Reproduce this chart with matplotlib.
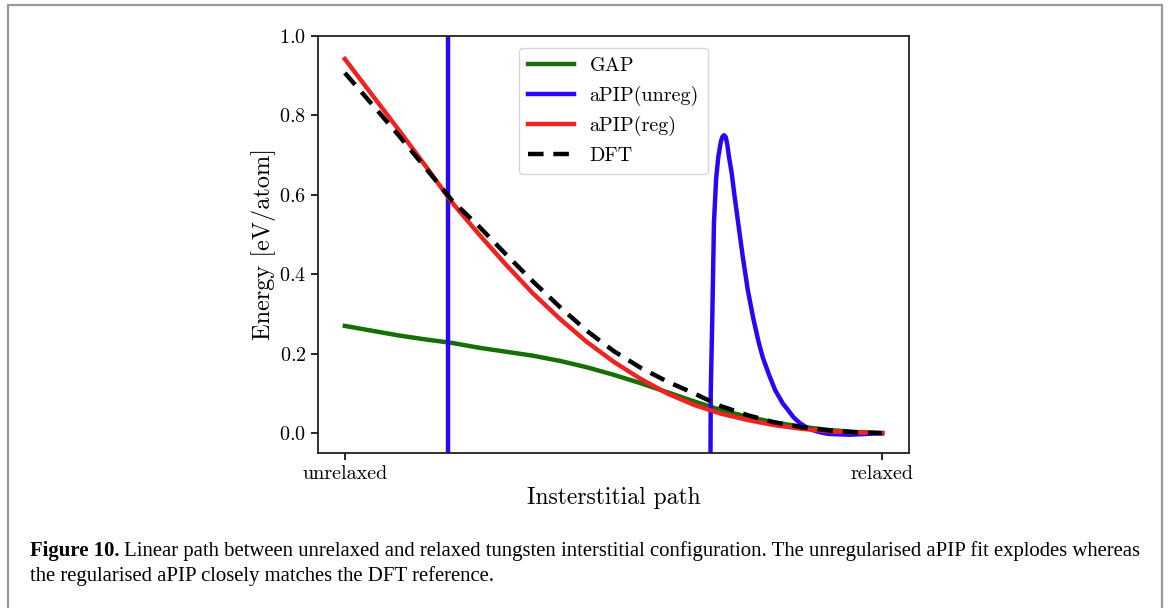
import numpy as np
import matplotlib
matplotlib.use("Agg")
import matplotlib.pyplot as plt
from matplotlib.patches import Rectangle

plt.rcParams['font.family'] = 'serif'
plt.rcParams['font.serif'] = ['cmr10']
plt.rcParams['mathtext.fontset'] = 'cm'
plt.rcParams['axes.formatter.use_mathtext'] = True

# position along the path: 0 = unrelaxed, 1 = relaxed (sampled every 0.05)
path_x = np.linspace(0.0, 1.0, 21)

gap_e = [0.270, 0.258, 0.246, 0.236, 0.227, 0.215, 0.205, 0.195, 0.182, 0.166, 0.147,
         0.126, 0.103, 0.080, 0.058, 0.041, 0.027, 0.016, 0.008, 0.003, 0.000]

reg_e = [0.942, 0.853, 0.764, 0.673, 0.580, 0.500, 0.424, 0.352, 0.288, 0.230, 0.180,
         0.137, 0.100, 0.071, 0.049, 0.033, 0.020, 0.011, 0.005, 0.002, 0.000]

dft_e = [0.907, 0.829, 0.750, 0.668, 0.585, 0.520, 0.450, 0.382, 0.318, 0.258, 0.207,
         0.165, 0.130, 0.100, 0.068, 0.045, 0.027, 0.015, 0.007, 0.002, 0.000]

# unregularised fit leaves the window between ~0.19 and ~0.68
unreg_x = [0.0, 0.10, 0.191, 0.193, 0.45, 0.676, 0.681, 0.684, 0.687, 0.691, 0.695, 0.700,
           0.703, 0.706, 0.709, 0.712, 0.715, 0.720, 0.725, 0.732, 0.740, 0.750, 0.760,
           0.770, 0.778, 0.790, 0.801, 0.815, 0.825, 0.835, 0.847, 0.860, 0.870, 0.885,
           0.900, 0.940, 0.970, 1.0]
unreg_e = [25.0, 60.0, 150.0, -150.0, -400.0, -1.5, 0.10, 0.30, 0.53, 0.64, 0.695, 0.735,
           0.747, 0.750, 0.745, 0.725, 0.695, 0.655, 0.600, 0.530, 0.450, 0.360, 0.290,
           0.230, 0.190, 0.145, 0.108, 0.075, 0.058, 0.040, 0.025, 0.014, 0.008, 0.002,
           -0.002, -0.004, -0.002, 0.0]

fig = plt.figure(figsize=(11.7, 6.08), dpi=100)

# frame around figure and caption
fig.patches.append(Rectangle((8 / 1170, -0.05), 1154 / 1170, 1.05 - 5 / 608,
                             transform=fig.transFigure, fill=False,
                             edgecolor='#9a9a9a', linewidth=1.6))

ax = fig.add_axes([318 / 1170, 1 - 453 / 608, 591 / 1170, 417 / 608])

lw = 3.2
ax.plot(path_x, gap_e, color='#176f03', lw=lw, label='GAP')
ax.plot(unreg_x, unreg_e, color='#2a06f5', lw=lw, label='aPIP(unreg)')
ax.plot(path_x, reg_e, color='#f02222', lw=lw, label='aPIP(reg)')
ax.plot(path_x, dft_e, color='black', lw=lw, ls=(0, (3.5, 2.2)), label='DFT')

ax.set_xlim(-0.05, 1.05)
ax.set_ylim(-0.05, 1.0)
ax.set_xticks([0, 1])
ax.set_xticklabels(['unrelaxed', 'relaxed'])
ax.set_yticks([0.0, 0.2, 0.4, 0.6, 0.8, 1.0])
ax.tick_params(labelsize=14.5, length=5, width=1.2)
for s in ax.spines.values():
    s.set_linewidth(1.3)
    s.set_color('#222222')

ax.set_xlabel('Insterstitial path', fontsize=17, labelpad=3)
ax.set_ylabel('Energy [eV/atom]', fontsize=17.5, labelpad=2)

ax.legend(loc='upper center', fontsize=14.5, handlelength=2.3, borderpad=0.45,
          labelspacing=0.52, handletextpad=0.75, borderaxespad=0.6)

cap_kw = dict(family='Liberation Serif', fontsize=14.95, va='baseline')
t1 = fig.text(30 / 1170, 1 - 556 / 608, 'Figure 10.', fontweight='bold', **cap_kw)
fig.canvas.draw()
bb = t1.get_window_extent()
fig.text(bb.x1 / 1170 + 4 / 1170, 1 - 556 / 608,
         'Linear path between unrelaxed and relaxed tungsten interstitial configuration. '
         'The unregularised aPIP fit explodes whereas', **cap_kw)
fig.text(30 / 1170, 1 - 581 / 608,
         'the regularised aPIP closely matches the DFT reference.', **cap_kw)

fig.savefig('out.png', dpi=100)
